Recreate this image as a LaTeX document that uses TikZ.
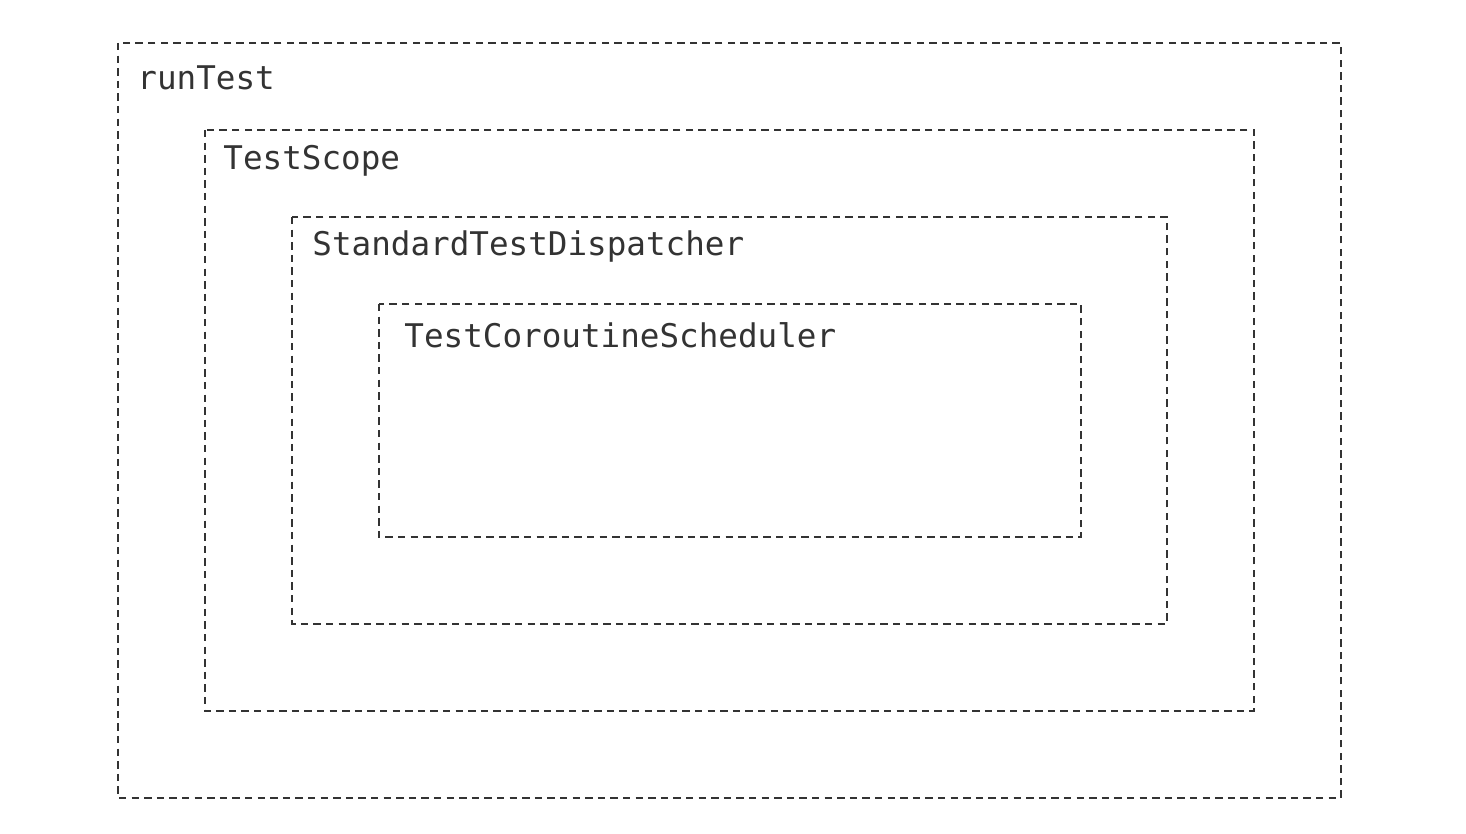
\documentclass[tikz,border=0pt]{standalone}
\usepackage{fontspec}
\setmonofont{DejaVu Sans Mono}
\usepackage{tikz}
\usetikzlibrary{positioning}

\definecolor{boxline}{HTML}{333333}
\definecolor{boxtext}{HTML}{333333}

\tikzset{
  scopebox/.style={draw=boxline,line width=1.2pt,dash pattern=on 3.7pt off 2.6pt},
  scopelabel/.style={anchor=base west,inner sep=0pt,text=boxtext,
    font=\ttfamily\fontsize{16.3}{19}\selectfont}
}

\begin{document}
\begin{tikzpicture}[x=0.5pt,y=-0.5pt]
    \useasboundingbox[fill=white] (0,0) rectangle (1466,834);
    % nested scopes, outermost first
    \draw[scopebox] (118,43) rectangle (1341,798);
    \node[scopelabel] (runtest) at (137,90) {runTest};
    \draw[scopebox] (205,130) rectangle (1254,711);
    \node[scopelabel] (testscope) at (223,170) {TestScope};
    \draw[scopebox] (292,217) rectangle (1167,624);
    \node[scopelabel] (dispatcher) at (312,256) {StandardTestDispatcher};
    \draw[scopebox] (379,304) rectangle (1081,537);
    \node[scopelabel] (scheduler) at (404,347) {TestCoroutineScheduler};
\end{tikzpicture}
\end{document}
